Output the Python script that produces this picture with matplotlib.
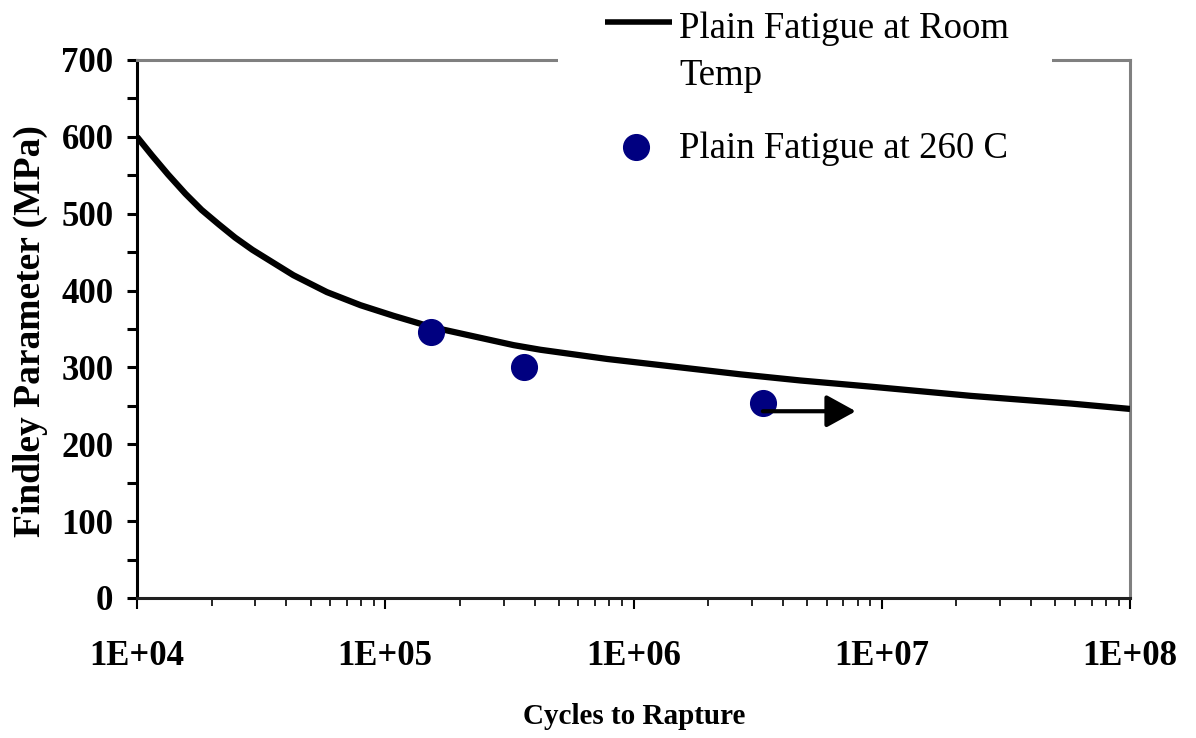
import numpy as np
import matplotlib
matplotlib.use("Agg")
import matplotlib.pyplot as plt
from matplotlib.lines import Line2D
from matplotlib.patches import Rectangle
from matplotlib.ticker import FixedLocator, LogLocator, NullFormatter, FuncFormatter, MultipleLocator

# room temperature curve
room_cycles = [1.000e4, 1.148e4, 1.334e4, 1.567e4, 1.820e4, 2.138e4, 2.483e4, 2.917e4,
               3.388e4, 4.266e4, 5.821e4, 7.943e4, 1.084e5, 1.380e5, 1.514e5, 3.289e5,
               4.217e5, 7.834e5, 1.455e6, 2.698e6, 4.710e6, 9.036e6, 2.286e7, 5.781e7,
               1.000e8]
room_findley = [600, 576, 551, 526, 505, 486, 469, 453,
                440, 420, 398, 381, 367, 357, 353, 329,
                323, 311, 301, 291, 283, 275, 263, 253,
                246]

# 260 C tests
hot_cycles = [1.53e5, 3.61e5, 3.32e6]
hot_findley = [346, 300, 254]

# runout arrow
runout_start = 3.32e6
runout_end = 7.86e6
runout_level = 243

x_ticks = [1e4, 1e5, 1e6, 1e7, 1e8]
x_labels = ["1E+04", "1E+05", "1E+06", "1E+07", "1E+08"]

plt.rcParams['font.family'] = ['Liberation Serif', 'DejaVu Serif']

W, H = 1196, 738
fig = plt.figure(figsize=(W / 100, H / 100), dpi=100)
ax = fig.add_axes([137 / W, 1 - 598 / H, (1130 - 137) / W, (598 - 60) / H])

ax.plot(room_cycles, room_findley, color='black', lw=4.5, solid_capstyle='butt', zorder=3)
ax.plot(hot_cycles, hot_findley, 'o', color='#000080', ms=18.5, mec='#000080',
        zorder=4, clip_on=False)
ax.annotate('', xy=(runout_end, runout_level), xytext=(runout_start, runout_level),
            arrowprops=dict(arrowstyle='-|>,head_length=0.4,head_width=0.22', lw=3,
                            color='black', mutation_scale=45, shrinkA=0, shrinkB=0),
            zorder=5)

ax.set_xscale('log')
ax.set_xlim(1e4, 1e8)
ax.set_ylim(0, 700)

ax.xaxis.set_major_locator(FixedLocator(x_ticks))
ax.xaxis.set_major_formatter(FuncFormatter(lambda v, p: x_labels[x_ticks.index(v)] if v in x_ticks else ""))
ax.xaxis.set_minor_locator(LogLocator(base=10, subs=np.arange(2, 10)))
ax.xaxis.set_minor_formatter(NullFormatter())
ax.yaxis.set_major_locator(MultipleLocator(100))
ax.yaxis.set_minor_locator(MultipleLocator(50))

ax.tick_params(axis='x', which='major', direction='out', length=8, width=1.5, pad=22,
               labelsize=25)
ax.tick_params(axis='x', which='minor', direction='out', length=5.5, width=1.2)
ax.tick_params(axis='y', which='both', direction='out', length=7, width=2.2, pad=10,
               labelsize=25)
for lab in ax.get_xticklabels() + ax.get_yticklabels():
    lab.set_fontweight('bold')

ax.spines['left'].set_linewidth(2.2)
ax.spines['left'].set_color('black')
ax.spines['bottom'].set_linewidth(2.2)
ax.spines['bottom'].set_color('#202020')
ax.spines['top'].set_linewidth(2.2)
ax.spines['top'].set_color('#808080')
ax.spines['right'].set_linewidth(2.2)
ax.spines['right'].set_color('#808080')

fig.text(30 / W, 1 - 331 / H, "Findley Parameter (MPa)", rotation=90, fontsize=27,
         fontweight='bold', ha='center', va='center')
fig.text(634 / W, 1 - 717 / H, "Cycles to Rapture", fontsize=21,
         fontweight='bold', ha='center', va='center')

# legend, drawn by hand so it sits over the top border like the original
fig.add_artist(Rectangle((558 / W, 1 - 180 / H), (1052 - 558) / W, 180 / H,
                         transform=fig.transFigure, facecolor='white', edgecolor='none',
                         zorder=6))
fig.add_artist(Line2D([605 / W, 672 / W], [1 - 22 / H, 1 - 22 / H], color='black', lw=4,
                      solid_capstyle='butt', transform=fig.transFigure, zorder=7))
fig.add_artist(Line2D([636 / W], [1 - 147 / H], marker='o', ms=18.5, color='#000080',
                      ls='none', transform=fig.transFigure, zorder=7))
leg_kw = dict(fontsize=26.5, ha='left', va='baseline', zorder=7)
fig.text(679 / W, 1 - 38 / H, "Plain Fatigue at Room", **leg_kw)
fig.text(679 / W, 1 - 85 / H, "Temp", **leg_kw)
fig.text(679 / W, 1 - 158 / H, "Plain Fatigue at 260 C", **leg_kw)

fig.savefig("out.png", dpi=100, facecolor='white')
